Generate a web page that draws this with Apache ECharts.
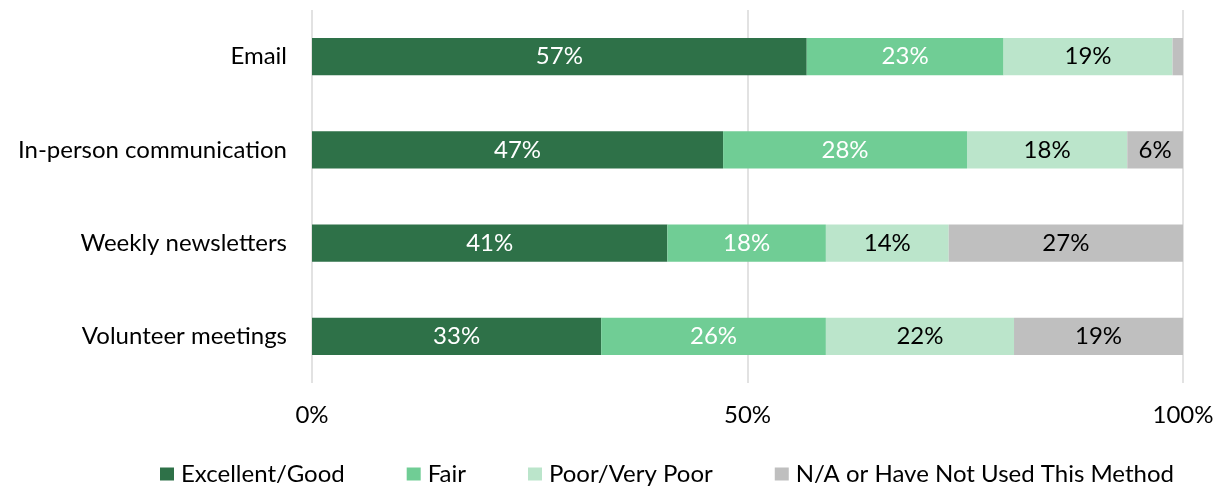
<!DOCTYPE html>
<html>
<head>
<meta charset="utf-8">
<script src="https://cdn.jsdelivr.net/npm/echarts@6/dist/echarts.min.js"></script>
<style>
  html, body { margin: 0; padding: 0; background: #fff; }
  #chart { width: 1220px; height: 489px; }
</style>
</head>
<body>
<div id="chart"></div>
<script>
// Survey: rating of each communication method (share of respondents, %)
const categories = ['Email', 'In-person communication', 'Weekly newsletters', 'Volunteer meetings'];
const seriesNames = ['Excellent/Good', 'Fair', 'Poor/Very Poor', 'N/A or Have Not Used This Method'];
const excellentGood = [56.8, 47.2, 40.8, 33.2];
const fair = [22.6, 28.0, 18.2, 25.8];
const poorVeryPoor = [19.4, 18.4, 14.1, 21.6];
const notUsed = [1.2, 6.4, 26.9, 19.4];
const axisTicks = [0, 50, 100];

const colors = ['#2E7148', '#70CD95', '#BBE5CB', '#BFBFBF'];
const labelColors = ['#ffffff', '#ffffff', '#000000', '#000000'];
const FONT = 'Lato, "Open Sans", sans-serif';
const FS = 24;

const values = [excellentGood, fair, poorVeryPoor, notUsed];

const chart = echarts.init(document.getElementById('chart'), null, { renderer: 'canvas' });

chart.setOption({
  animation: false,
  textStyle: { fontFamily: FONT },
  grid: { left: 312, right: 37, top: 10, bottom: 106, containLabel: false },
  legend: {
    top: 462,
    left: 160,
    padding: 0,
    itemWidth: 14,
    itemHeight: 13,
    itemGap: 62,
    icon: 'rect',
    textStyle: { fontFamily: FONT, fontSize: FS, color: '#000', padding: [0, 0, 0, 2] },
    data: seriesNames
  },
  xAxis: {
    type: 'value',
    min: axisTicks[0],
    max: axisTicks[axisTicks.length - 1],
    interval: axisTicks[1] - axisTicks[0],
    axisLine: { show: false },
    axisTick: { show: false },
    splitLine: { show: true, lineStyle: { color: '#D9D9D9', width: 1.5 } },
    axisLabel: {
      fontFamily: FONT, fontSize: FS, color: '#000', margin: 20,
      formatter: v => v + '%'
    }
  },
  yAxis: {
    type: 'category',
    inverse: true,
    data: categories,
    axisLine: { show: false },
    axisTick: { show: false },
    axisLabel: { fontFamily: FONT, fontSize: FS, color: '#000', margin: 25 }
  },
  series: seriesNames.map((name, i) => ({
    name: name,
    type: 'bar',
    stack: 'total',
    barWidth: '40%',
    data: values[i],
    itemStyle: { color: colors[i] },
    label: {
      show: true,
      position: 'inside',
      fontFamily: FONT,
      fontSize: FS,
      color: labelColors[i],
      formatter: p => (p.value >= 3 ? Math.round(p.value) + '%' : '')
    }
  }))
});
</script>
</body>
</html>
